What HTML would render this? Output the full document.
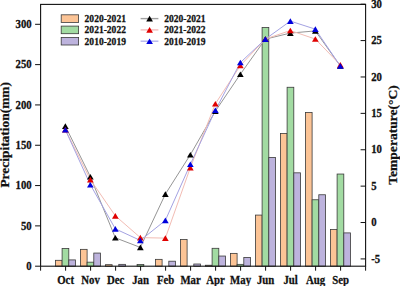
<!DOCTYPE html><html><head><meta charset="utf-8"><style>html,body{margin:0;padding:0;background:#fff;}svg{display:block;}text{font-family:"Liberation Serif", serif;font-weight:bold;fill:#111;stroke:#111;stroke-width:0.25px;}</style></head><body>
<svg width="400" height="286" viewBox="0 0 400 286">
<rect width="400" height="286" fill="#fff"/>
<rect x="55.40" y="260.31" width="6.70" height="5.89" fill="#FCC496" stroke="#3a3a3a" stroke-width="0.80"/>
<rect x="62.10" y="248.46" width="6.70" height="17.74" fill="#A2DBA2" stroke="#3a3a3a" stroke-width="0.80"/>
<rect x="68.80" y="259.91" width="6.70" height="6.29" fill="#BDB3DD" stroke="#3a3a3a" stroke-width="0.80"/>
<rect x="80.40" y="249.35" width="6.70" height="16.85" fill="#FCC496" stroke="#3a3a3a" stroke-width="0.80"/>
<rect x="87.10" y="262.17" width="6.70" height="4.03" fill="#A2DBA2" stroke="#3a3a3a" stroke-width="0.80"/>
<rect x="93.80" y="253.06" width="6.70" height="13.14" fill="#BDB3DD" stroke="#3a3a3a" stroke-width="0.80"/>
<rect x="105.40" y="264.67" width="6.70" height="1.53" fill="#FCC496" stroke="#3a3a3a" stroke-width="0.80"/>
<rect x="118.80" y="264.35" width="6.70" height="1.85" fill="#BDB3DD" stroke="#3a3a3a" stroke-width="0.80"/>
<rect x="137.10" y="264.59" width="6.70" height="1.61" fill="#A2DBA2" stroke="#3a3a3a" stroke-width="0.80"/>
<rect x="155.40" y="259.35" width="6.70" height="6.85" fill="#FCC496" stroke="#3a3a3a" stroke-width="0.80"/>
<rect x="168.80" y="261.20" width="6.70" height="5.00" fill="#BDB3DD" stroke="#3a3a3a" stroke-width="0.80"/>
<rect x="180.40" y="239.59" width="6.70" height="26.61" fill="#FCC496" stroke="#3a3a3a" stroke-width="0.80"/>
<rect x="193.80" y="264.02" width="6.70" height="2.18" fill="#BDB3DD" stroke="#3a3a3a" stroke-width="0.80"/>
<rect x="205.40" y="265.23" width="6.70" height="0.97" fill="#FCC496" stroke="#3a3a3a" stroke-width="0.80"/>
<rect x="212.10" y="248.30" width="6.70" height="17.90" fill="#A2DBA2" stroke="#3a3a3a" stroke-width="0.80"/>
<rect x="218.80" y="256.04" width="6.70" height="10.16" fill="#BDB3DD" stroke="#3a3a3a" stroke-width="0.80"/>
<rect x="230.40" y="253.38" width="6.70" height="12.82" fill="#FCC496" stroke="#3a3a3a" stroke-width="0.80"/>
<rect x="237.10" y="264.35" width="6.70" height="1.85" fill="#A2DBA2" stroke="#3a3a3a" stroke-width="0.80"/>
<rect x="243.80" y="257.41" width="6.70" height="8.79" fill="#BDB3DD" stroke="#3a3a3a" stroke-width="0.80"/>
<rect x="255.40" y="215.08" width="6.70" height="51.12" fill="#FCC496" stroke="#3a3a3a" stroke-width="0.80"/>
<rect x="262.10" y="27.53" width="6.70" height="238.67" fill="#A2DBA2" stroke="#3a3a3a" stroke-width="0.80"/>
<rect x="268.80" y="157.43" width="6.70" height="108.77" fill="#BDB3DD" stroke="#3a3a3a" stroke-width="0.80"/>
<rect x="280.40" y="133.48" width="6.70" height="132.72" fill="#FCC496" stroke="#3a3a3a" stroke-width="0.80"/>
<rect x="287.10" y="87.27" width="6.70" height="178.93" fill="#A2DBA2" stroke="#3a3a3a" stroke-width="0.80"/>
<rect x="293.80" y="172.83" width="6.70" height="93.37" fill="#BDB3DD" stroke="#3a3a3a" stroke-width="0.80"/>
<rect x="305.40" y="112.51" width="6.70" height="153.69" fill="#FCC496" stroke="#3a3a3a" stroke-width="0.80"/>
<rect x="312.10" y="199.76" width="6.70" height="66.44" fill="#A2DBA2" stroke="#3a3a3a" stroke-width="0.80"/>
<rect x="318.80" y="194.76" width="6.70" height="71.44" fill="#BDB3DD" stroke="#3a3a3a" stroke-width="0.80"/>
<rect x="330.40" y="229.51" width="6.70" height="36.69" fill="#FCC496" stroke="#3a3a3a" stroke-width="0.80"/>
<rect x="337.10" y="174.04" width="6.70" height="92.16" fill="#A2DBA2" stroke="#3a3a3a" stroke-width="0.80"/>
<rect x="343.80" y="232.90" width="6.70" height="33.30" fill="#BDB3DD" stroke="#3a3a3a" stroke-width="0.80"/>
<polyline points="65.35,126.10 90.35,176.68 115.35,237.82 140.35,247.42 165.35,194.15 190.35,154.70 215.35,111.18 240.35,74.21 265.35,39.13 290.35,33.09 315.35,30.91 340.35,66.06" fill="none" stroke="#959595" stroke-width="1.00"/>
<polyline points="65.35,129.67 90.35,179.59 115.35,215.84 140.35,237.60 165.35,238.11 190.35,167.59 215.35,103.76 240.35,65.55 265.35,38.99 290.35,30.55 315.35,39.06 340.35,64.90" fill="none" stroke="#f2bcb4" stroke-width="1.00"/>
<polyline points="65.35,129.81 90.35,184.69 115.35,228.86 140.35,240.44 165.35,220.42 190.35,164.31 215.35,110.31 240.35,62.57 265.35,39.13 290.35,21.08 315.35,29.16 340.35,66.06" fill="none" stroke="#a4a2e2" stroke-width="1.00"/>
<path d="M65.35 123.30L68.70 128.90L62.00 128.90Z" fill="#000"/>
<path d="M90.35 173.88L93.70 179.48L87.00 179.48Z" fill="#000"/>
<path d="M115.35 235.02L118.70 240.62L112.00 240.62Z" fill="#000"/>
<path d="M140.35 244.62L143.70 250.22L137.00 250.22Z" fill="#000"/>
<path d="M165.35 191.35L168.70 196.95L162.00 196.95Z" fill="#000"/>
<path d="M190.35 151.90L193.70 157.50L187.00 157.50Z" fill="#000"/>
<path d="M215.35 108.38L218.70 113.98L212.00 113.98Z" fill="#000"/>
<path d="M240.35 71.41L243.70 77.01L237.00 77.01Z" fill="#000"/>
<path d="M265.35 36.33L268.70 41.93L262.00 41.93Z" fill="#000"/>
<path d="M290.35 30.29L293.70 35.89L287.00 35.89Z" fill="#000"/>
<path d="M315.35 28.11L318.70 33.71L312.00 33.71Z" fill="#000"/>
<path d="M340.35 63.26L343.70 68.86L337.00 68.86Z" fill="#000"/>
<path d="M65.35 126.87L68.70 132.47L62.00 132.47Z" fill="#e00000"/>
<path d="M90.35 176.79L93.70 182.39L87.00 182.39Z" fill="#e00000"/>
<path d="M115.35 213.04L118.70 218.64L112.00 218.64Z" fill="#e00000"/>
<path d="M140.35 234.80L143.70 240.40L137.00 240.40Z" fill="#e00000"/>
<path d="M165.35 235.31L168.70 240.91L162.00 240.91Z" fill="#e00000"/>
<path d="M190.35 164.79L193.70 170.39L187.00 170.39Z" fill="#e00000"/>
<path d="M215.35 100.96L218.70 106.56L212.00 106.56Z" fill="#e00000"/>
<path d="M240.35 62.75L243.70 68.35L237.00 68.35Z" fill="#e00000"/>
<path d="M265.35 36.19L268.70 41.79L262.00 41.79Z" fill="#e00000"/>
<path d="M290.35 27.75L293.70 33.35L287.00 33.35Z" fill="#e00000"/>
<path d="M315.35 36.26L318.70 41.86L312.00 41.86Z" fill="#e00000"/>
<path d="M340.35 62.10L343.70 67.70L337.00 67.70Z" fill="#e00000"/>
<path d="M65.35 127.01L68.70 132.61L62.00 132.61Z" fill="#0000dd"/>
<path d="M90.35 181.89L93.70 187.49L87.00 187.49Z" fill="#0000dd"/>
<path d="M115.35 226.06L118.70 231.66L112.00 231.66Z" fill="#0000dd"/>
<path d="M140.35 237.64L143.70 243.24L137.00 243.24Z" fill="#0000dd"/>
<path d="M165.35 217.62L168.70 223.22L162.00 223.22Z" fill="#0000dd"/>
<path d="M190.35 161.51L193.70 167.11L187.00 167.11Z" fill="#0000dd"/>
<path d="M215.35 107.51L218.70 113.11L212.00 113.11Z" fill="#0000dd"/>
<path d="M240.35 59.77L243.70 65.37L237.00 65.37Z" fill="#0000dd"/>
<path d="M265.35 36.33L268.70 41.93L262.00 41.93Z" fill="#0000dd"/>
<path d="M290.35 18.28L293.70 23.88L287.00 23.88Z" fill="#0000dd"/>
<path d="M315.35 26.36L318.70 31.96L312.00 31.96Z" fill="#0000dd"/>
<path d="M340.35 63.26L343.70 68.86L337.00 68.86Z" fill="#0000dd"/>
<rect x="40.60" y="4.40" width="325.00" height="261.80" fill="none" stroke="#111" stroke-width="1.1"/>
<line x1="35.10" y1="266.20" x2="40.60" y2="266.20" stroke="#111" stroke-width="1"/>
<text transform="translate(31.70,269.90) scale(1,1.120)" font-size="10.75" text-anchor="end">0</text>
<line x1="35.10" y1="225.88" x2="40.60" y2="225.88" stroke="#111" stroke-width="1"/>
<text transform="translate(31.70,229.58) scale(1,1.120)" font-size="10.75" text-anchor="end">50</text>
<line x1="35.10" y1="185.57" x2="40.60" y2="185.57" stroke="#111" stroke-width="1"/>
<text transform="translate(31.70,189.27) scale(1,1.120)" font-size="10.75" text-anchor="end">100</text>
<line x1="35.10" y1="145.25" x2="40.60" y2="145.25" stroke="#111" stroke-width="1"/>
<text transform="translate(31.70,148.95) scale(1,1.120)" font-size="10.75" text-anchor="end">150</text>
<line x1="35.10" y1="104.93" x2="40.60" y2="104.93" stroke="#111" stroke-width="1"/>
<text transform="translate(31.70,108.63) scale(1,1.120)" font-size="10.75" text-anchor="end">200</text>
<line x1="35.10" y1="64.62" x2="40.60" y2="64.62" stroke="#111" stroke-width="1"/>
<text transform="translate(31.70,68.32) scale(1,1.120)" font-size="10.75" text-anchor="end">250</text>
<line x1="35.10" y1="24.30" x2="40.60" y2="24.30" stroke="#111" stroke-width="1"/>
<text transform="translate(31.70,28.00) scale(1,1.120)" font-size="10.75" text-anchor="end">300</text>
<line x1="360.60" y1="258.92" x2="365.60" y2="258.92" stroke="#111" stroke-width="1"/>
<text transform="translate(371.20,262.62) scale(1,1.120)" font-size="10.75" text-anchor="start">-5</text>
<line x1="360.60" y1="222.53" x2="365.60" y2="222.53" stroke="#111" stroke-width="1"/>
<text transform="translate(371.20,226.23) scale(1,1.120)" font-size="10.75" text-anchor="start">0</text>
<line x1="360.60" y1="186.14" x2="365.60" y2="186.14" stroke="#111" stroke-width="1"/>
<text transform="translate(371.20,189.84) scale(1,1.120)" font-size="10.75" text-anchor="start">5</text>
<line x1="360.60" y1="149.76" x2="365.60" y2="149.76" stroke="#111" stroke-width="1"/>
<text transform="translate(371.20,153.46) scale(1,1.120)" font-size="10.75" text-anchor="start">10</text>
<line x1="360.60" y1="113.37" x2="365.60" y2="113.37" stroke="#111" stroke-width="1"/>
<text transform="translate(371.20,117.07) scale(1,1.120)" font-size="10.75" text-anchor="start">15</text>
<line x1="360.60" y1="76.98" x2="365.60" y2="76.98" stroke="#111" stroke-width="1"/>
<text transform="translate(371.20,80.68) scale(1,1.120)" font-size="10.75" text-anchor="start">20</text>
<line x1="360.60" y1="40.59" x2="365.60" y2="40.59" stroke="#111" stroke-width="1"/>
<text transform="translate(371.20,44.29) scale(1,1.120)" font-size="10.75" text-anchor="start">25</text>
<line x1="360.60" y1="4.20" x2="365.60" y2="4.20" stroke="#111" stroke-width="1"/>
<text transform="translate(371.20,7.90) scale(1,1.120)" font-size="10.75" text-anchor="start">30</text>
<line x1="40.60" y1="266.20" x2="40.60" y2="270.70" stroke="#111" stroke-width="1"/>
<line x1="65.60" y1="266.20" x2="65.60" y2="270.70" stroke="#111" stroke-width="1"/>
<line x1="90.60" y1="266.20" x2="90.60" y2="270.70" stroke="#111" stroke-width="1"/>
<line x1="115.60" y1="266.20" x2="115.60" y2="270.70" stroke="#111" stroke-width="1"/>
<line x1="140.60" y1="266.20" x2="140.60" y2="270.70" stroke="#111" stroke-width="1"/>
<line x1="165.60" y1="266.20" x2="165.60" y2="270.70" stroke="#111" stroke-width="1"/>
<line x1="190.60" y1="266.20" x2="190.60" y2="270.70" stroke="#111" stroke-width="1"/>
<line x1="215.60" y1="266.20" x2="215.60" y2="270.70" stroke="#111" stroke-width="1"/>
<line x1="240.60" y1="266.20" x2="240.60" y2="270.70" stroke="#111" stroke-width="1"/>
<line x1="265.60" y1="266.20" x2="265.60" y2="270.70" stroke="#111" stroke-width="1"/>
<line x1="290.60" y1="266.20" x2="290.60" y2="270.70" stroke="#111" stroke-width="1"/>
<line x1="315.60" y1="266.20" x2="315.60" y2="270.70" stroke="#111" stroke-width="1"/>
<line x1="340.60" y1="266.20" x2="340.60" y2="270.70" stroke="#111" stroke-width="1"/>
<line x1="365.60" y1="266.20" x2="365.60" y2="270.70" stroke="#111" stroke-width="1"/>
<text transform="translate(65.60,283.90) scale(1,1.120)" font-size="10.80" text-anchor="middle">Oct</text>
<text transform="translate(90.60,283.90) scale(1,1.120)" font-size="10.80" text-anchor="middle">Nov</text>
<text transform="translate(115.60,283.90) scale(1,1.120)" font-size="10.80" text-anchor="middle">Dec</text>
<text transform="translate(140.60,283.90) scale(1,1.120)" font-size="10.80" text-anchor="middle">Jan</text>
<text transform="translate(165.60,283.90) scale(1,1.120)" font-size="10.80" text-anchor="middle">Feb</text>
<text transform="translate(190.60,283.90) scale(1,1.120)" font-size="10.80" text-anchor="middle">Mar</text>
<text transform="translate(215.60,283.90) scale(1,1.120)" font-size="10.80" text-anchor="middle">Apr</text>
<text transform="translate(240.60,283.90) scale(1,1.120)" font-size="10.80" text-anchor="middle">May</text>
<text transform="translate(265.60,283.90) scale(1,1.120)" font-size="10.80" text-anchor="middle">Jun</text>
<text transform="translate(290.60,283.90) scale(1,1.120)" font-size="10.80" text-anchor="middle">Jul</text>
<text transform="translate(315.60,283.90) scale(1,1.120)" font-size="10.80" text-anchor="middle">Aug</text>
<text transform="translate(340.60,283.90) scale(1,1.120)" font-size="10.80" text-anchor="middle">Sep</text>
<text transform="translate(8.8,134.8) rotate(-90)" font-size="12.9" text-anchor="middle" textLength="105.6" lengthAdjust="spacingAndGlyphs">Precipitation(mm)</text>
<text transform="translate(396.5,135.0) rotate(-90)" font-size="12.9" text-anchor="middle" textLength="99.6" lengthAdjust="spacingAndGlyphs">Temperature(°C)</text>
<rect x="61.2" y="14.80" width="17.4" height="7.6" fill="#FCC496" stroke="#3a3a3a" stroke-width="0.80"/>
<text transform="translate(84.60,22.00) scale(1,1.120)" font-size="9.55" text-anchor="start">2020-2021</text>
<rect x="61.2" y="26.10" width="17.4" height="7.6" fill="#A2DBA2" stroke="#3a3a3a" stroke-width="0.80"/>
<text transform="translate(84.60,33.30) scale(1,1.120)" font-size="9.55" text-anchor="start">2021-2022</text>
<rect x="61.2" y="37.40" width="17.4" height="7.6" fill="#BDB3DD" stroke="#3a3a3a" stroke-width="0.80"/>
<text transform="translate(84.60,44.60) scale(1,1.120)" font-size="9.55" text-anchor="start">2010-2019</text>
<line x1="140.6" y1="18.60" x2="158.4" y2="18.60" stroke="#a0a0a0" stroke-width="1.4"/>
<path d="M149.60 15.80L152.95 21.40L146.25 21.40Z" fill="#000"/>
<text transform="translate(164.20,22.00) scale(1,1.120)" font-size="9.55" text-anchor="start">2020-2021</text>
<line x1="140.6" y1="29.90" x2="158.4" y2="29.90" stroke="#f4bcbc" stroke-width="1.4"/>
<path d="M149.60 27.10L152.95 32.70L146.25 32.70Z" fill="#e00000"/>
<text transform="translate(164.20,33.30) scale(1,1.120)" font-size="9.55" text-anchor="start">2021-2022</text>
<line x1="140.6" y1="41.20" x2="158.4" y2="41.20" stroke="#b4b4ee" stroke-width="1.4"/>
<path d="M149.60 38.40L152.95 44.00L146.25 44.00Z" fill="#0000dd"/>
<text transform="translate(164.20,44.60) scale(1,1.120)" font-size="9.55" text-anchor="start">2010-2019</text>
</svg></body></html>
